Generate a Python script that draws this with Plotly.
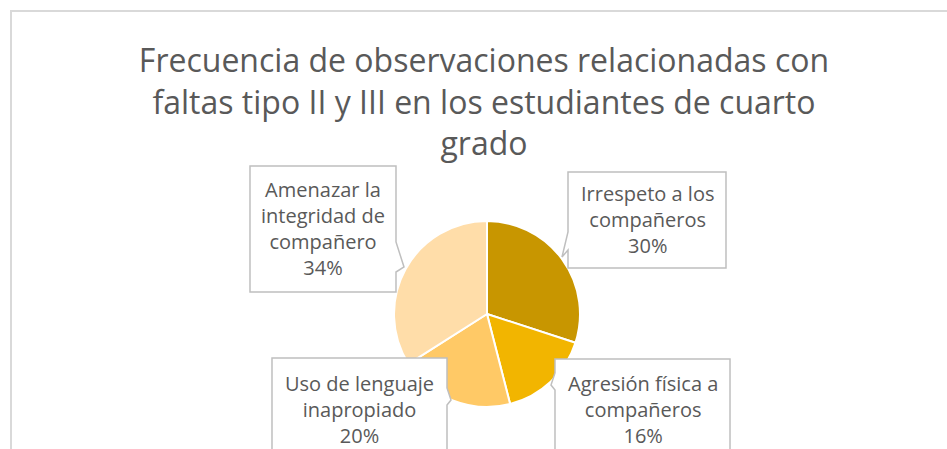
import plotly.graph_objects as go

# ---- data ----
categories = ["Irrespeto a los<br>compañeros", "Agresión física a<br>compañeros",
              "Uso de lenguaje<br>inapropiado", "Amenazar la<br>integridad de<br>compañero"]
values = [30, 16, 20, 34]
colors = ["#C89600", "#F2B500", "#FFC966", "#FFDDA9"]
title_text = ("Frecuencia de observaciones relacionadas con<br>"
              "faltas tipo II y III en los estudiantes de cuarto<br>grado")

W, H = 947, 449
def px(x): return x / W
def py(y): return 1 - y / H

fig = go.Figure()
fig.add_trace(go.Pie(
    labels=categories, values=values, sort=False, direction="clockwise", rotation=0,
    marker=dict(colors=colors, line=dict(color="white", width=2)),
    textinfo="none", hoverinfo="label+percent", showlegend=False,
    domain=dict(x=[px(394), px(580)], y=[py(407), py(221)]),
))

# label callout geometry (pixels): box, notch points, text centre
boxes = [
    dict(box=(568, 172, 726, 268), side="l", notch=[(568, 250), (562, 257), (568, 232)], c=(647, 220)),
    dict(box=(555, 359, 730, 480), side="l", notch=[(555, 390), (551, 385), (555, 373)], c=(643, 409)),
    dict(box=(272, 358, 447, 480), side="r", notch=[(447, 388), (451, 400), (447, 405)], c=(359, 409)),
    dict(box=(250, 166, 396, 292), side="r", notch=[(396, 242), (404, 267), (396, 272)], c=(323, 228)),
]

total = sum(values)
shapes = [dict(type="rect", xref="paper", yref="paper", x0=px(11), y0=py(11), x1=px(990), y1=py(500),
               line=dict(color="#D9D9D9", width=2), fillcolor="rgba(0,0,0,0)", layer="below")]
annotations = []
for cat, v, b in zip(categories, values, boxes):
    x0, y0, x1, y1 = b["box"]
    if b["side"] == "l":
        pts = [(x0, y0), (x1, y0), (x1, y1), (x0, y1)] + b["notch"]
    else:
        pts = [(x0, y0), (x1, y0)] + b["notch"] + [(x1, y1), (x0, y1)]
    path = "M " + " L ".join(f"{px(a):.5f},{py(c):.5f}" for a, c in pts) + " Z"
    shapes.append(dict(type="path", xref="paper", yref="paper", path=path,
                       line=dict(color="#BFBFBF", width=1.5), fillcolor="white"))
    pct = round(100 * v / total)
    annotations.append(dict(text=f"{cat}<br>{pct}%", x=px(b["c"][0]), y=py(b["c"][1]),
                            xref="paper", yref="paper", showarrow=False, align="center",
                            xanchor="center", yanchor="middle",
                            font=dict(family="Open Sans", size=20, color="#595959")))

fig.update_layout(
    width=W, height=H, margin=dict(l=0, r=0, t=0, b=0),
    paper_bgcolor="white", plot_bgcolor="white",
    title=dict(text=title_text, x=px(484), xanchor="center", y=py(72), yanchor="top",
               font=dict(family="Open Sans", size=32, color="#595959")),
    shapes=shapes, annotations=annotations,
)
fig.write_html("out.html", config={"displayModeBar": False})
with open("out.html", encoding="utf-8") as f:
    html = f.read()
html = html.replace("<head>", "<head><style>html,body{margin:0;padding:0;overflow:hidden;}</style>", 1)
with open("out.html", "w", encoding="utf-8") as f:
    f.write(html)
